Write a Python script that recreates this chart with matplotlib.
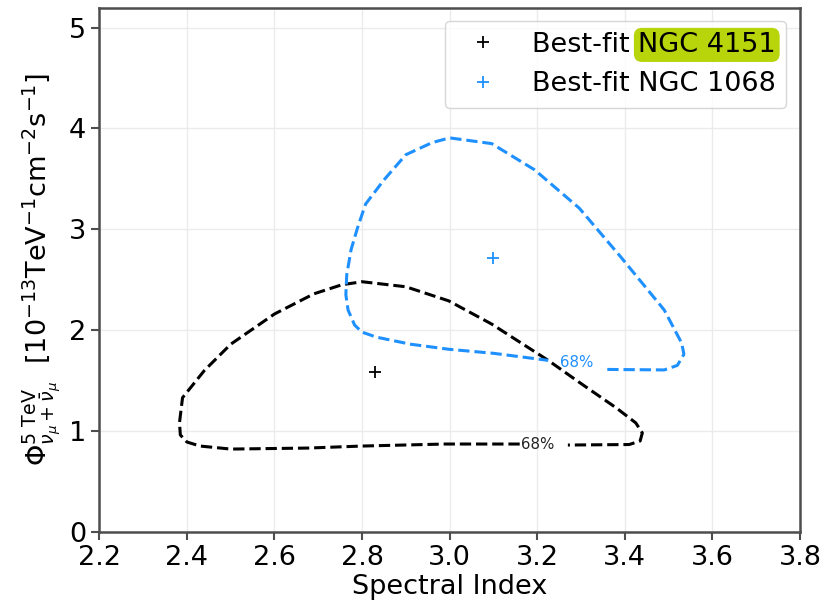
import matplotlib
matplotlib.use('Agg')
import matplotlib.pyplot as plt

# 68% contour of NGC 4151 (open at the label gap)
ngc4151_idx = [3.16, 3.115, 2.99, 2.80, 2.676, 2.50, 2.43, 2.40, 2.385, 2.383, 2.39, 2.44, 2.50, 2.60,
               2.69, 2.754, 2.80, 2.90, 2.998, 3.096, 3.225, 3.30, 3.38, 3.425, 3.44, 3.435, 3.41, 3.27]
ngc4151_phi = [0.87, 0.87, 0.87, 0.85, 0.83, 0.82, 0.85, 0.89, 0.96, 1.08, 1.33, 1.60, 1.86, 2.16,
               2.36, 2.45, 2.48, 2.43, 2.29, 2.06, 1.70, 1.47, 1.23, 1.08, 0.98, 0.90, 0.865, 0.86]

# 68% contour of NGC 1068
ngc1068_idx = [3.36, 3.49, 3.52, 3.535, 3.53, 3.49, 3.39, 3.296, 3.194, 3.096, 3.0, 2.96, 2.90,
               2.85, 2.808, 2.79, 2.775, 2.765, 2.763, 2.768, 2.783, 2.80, 2.833, 2.911, 2.998,
               3.10, 3.225]
ngc1068_phi = [1.61, 1.605, 1.65, 1.76, 1.87, 2.20, 2.73, 3.21, 3.59, 3.85, 3.907, 3.86, 3.74,
               3.49, 3.25, 3.02, 2.80, 2.55, 2.35, 2.20, 2.05, 1.98, 1.93, 1.86, 1.81, 1.77, 1.70]

best_4151 = (2.83, 1.58)
best_1068 = (3.10, 2.72)

xticks = [2.2, 2.4, 2.6, 2.8, 3.0, 3.2, 3.4, 3.6, 3.8]
yticks = [0, 1, 2, 3, 4, 5]

blue = '#1e90ff'
fs = 19.5

fig = plt.figure(figsize=(8.23, 6.07), dpi=100)
ax = fig.add_axes([0.1207, 0.124, 0.8513, 0.8636])

ax.plot(ngc4151_idx, ngc4151_phi, color='black', ls='--', lw=2.2)
ax.plot(ngc1068_idx, ngc1068_phi, color=blue, ls='--', lw=2.2)
ax.text(3.2, 0.87, '68%', color='#222222', fontsize=10.8, ha='center', va='center')
ax.text(3.29, 1.68, '68%', color=blue, fontsize=10.8, ha='center', va='center')

ax.plot(*best_4151, marker='+', color='black', ls='none', ms=9, mew=1.3,
        label='Best-fit NGC 4151')
ax.plot(*best_1068, marker='+', color=blue, ls='none', ms=9, mew=1.3,
        label='Best-fit NGC 1068')

ax.set_xlim(2.2, 3.8)
ax.set_ylim(0, 5.2)
ax.set_xticks(xticks)
ax.set_yticks(yticks)
ax.tick_params(labelsize=fs, length=6, width=1.5, color='0.3')
for sp in ax.spines.values():
    sp.set_color('0.3')
    sp.set_linewidth(1.8)
ax.grid(color='#ebebeb', lw=1)
ax.set_axisbelow(True)

ax.set_xlabel('Spectral Index', fontsize=fs, labelpad=2)
ax.set_ylabel(r'$\Phi^{5\ \mathrm{TeV}}_{\nu_\mu+\bar{\nu}_\mu}$  [$10^{-13}$TeV$^{-1}$cm$^{-2}$s$^{-1}$]',
              fontsize=fs, labelpad=4)

leg = ax.legend(loc='upper right', fontsize=fs, framealpha=0.8)

# highlight "NGC 4151" in the legend
fig.canvas.draw()
r = fig.canvas.get_renderer()
t0 = leg.get_texts()[0]
ext = t0.get_window_extent(r)
fig.text(ext.x1, ext.y0, 'NGC 4151', transform=None, fontsize=fs, ha='right', va='bottom',
         zorder=10, bbox=dict(boxstyle='round,pad=0.15,rounding_size=0.3', fc='#b8d40b', ec='none'))

fig.savefig('out.png', dpi=100)
